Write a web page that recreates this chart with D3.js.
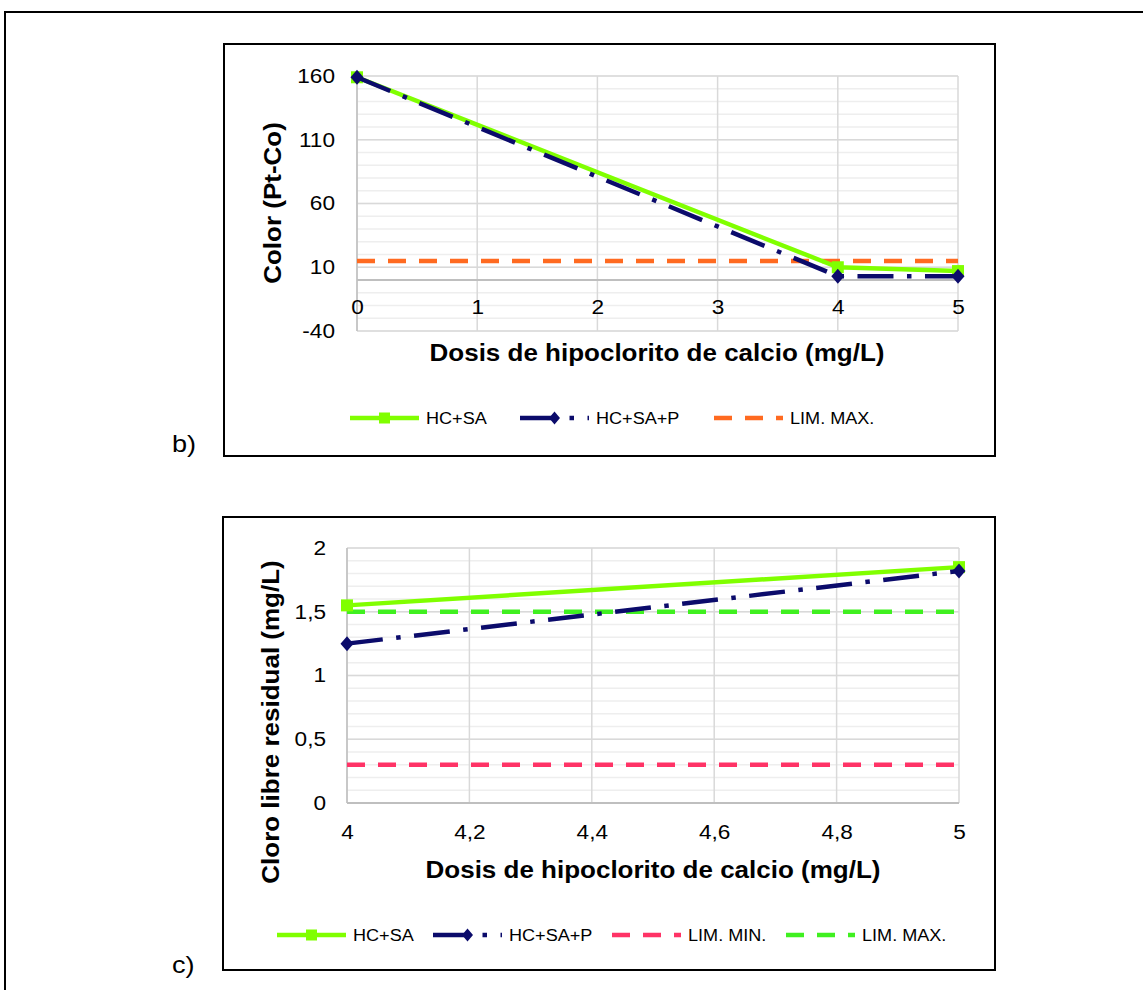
<!DOCTYPE html>
<html>
<head>
<meta charset="utf-8">
<script src="https://cdn.jsdelivr.net/npm/d3@7"></script>
<style>
  html, body { margin: 0; padding: 0; background: #fff; }
  svg text { font-family: "Liberation Sans", Arial, sans-serif; fill: #000; }
</style>
</head>
<body>
<svg id="fig" width="1143" height="990"></svg>
<script>
// ---- Panel b: colour vs. calcium hypochlorite dose ----
const colorDoses = [0, 4, 5];
const colorHcSa = [159, 10, 7];
const colorHcSaP = [159, 3, 3];
const colorLimMax = 15;
const colorYTicks = [-40, 10, 60, 110, 160];
const colorXTicks = [0, 1, 2, 3, 4, 5];

// ---- Panel c: free residual chlorine vs. dose ----
const chlorineDoses = [4, 5];
const chlorineHcSa = [1.55, 1.85];
const chlorineHcSaP = [1.25, 1.82];
const chlorineLimMin = 0.3;
const chlorineLimMax = 1.5;
const chlorineYTicks = [0, 0.5, 1, 1.5, 2];
const chlorineXTicks = [4, 4.2, 4.4, 4.6, 4.8, 5];

const GREEN = "#80ff00", NAVY = "#0b0b6b", ORANGE = "#ff6a20", PINK = "#ff3366", LIME = "#40f020";
const DASH = "18,13", DASHDOT = "36,13.5,4.5,13.5";
const comma = d => String(d).replace(".", ",");

const svg = d3.select("#fig");
svg.append("rect").attr("width", 1143).attr("height", 990).attr("fill", "#fff");

// outer frame (top and left edges only are visible)
svg.append("path").attr("d", "M5,990V12H1143").attr("fill", "none").attr("stroke", "#000").attr("stroke-width", 2);

function diamond(sel, cx, cy, w, h, fill) {
  sel.append("path")
    .attr("d", `M${cx},${cy - h}L${cx + w},${cy}L${cx},${cy + h}L${cx - w},${cy}Z`)
    .attr("fill", fill);
}
function square(sel, cx, cy, s, fill) {
  sel.append("rect").attr("x", cx - s / 2).attr("y", cy - s / 2).attr("width", s).attr("height", s).attr("fill", fill);
}

function panel(cfg) {
  const g = svg.append("g");
  // box
  g.append("rect").attr("x", cfg.box[0]).attr("y", cfg.box[1])
    .attr("width", cfg.box[2] - cfg.box[0]).attr("height", cfg.box[3] - cfg.box[1])
    .attr("fill", "none").attr("stroke", "#000").attr("stroke-width", 2);
  g.append("text").attr("x", 172).attr("y", cfg.tagY).attr("font-size", 24).text(cfg.tag);

  const x = d3.scaleLinear().domain(cfg.xDomain).range(cfg.xRange);
  const y = d3.scaleLinear().domain(cfg.yDomain).range(cfg.yRange);
  const [x0, x1] = cfg.xRange, [yb, yt] = cfg.yRange;

  // minor horizontal gridlines
  const minor = d3.range(cfg.yDomain[0], cfg.yDomain[1] + cfg.minorStep / 2, cfg.minorStep);
  g.append("g").selectAll("line").data(minor).join("line")
    .attr("x1", x0).attr("x2", x1).attr("y1", d => y(d)).attr("y2", d => y(d))
    .attr("stroke", "#eeeeee").attr("stroke-width", 1.5);
  // major gridlines
  g.append("g").selectAll("line").data(cfg.yTicks).join("line")
    .attr("x1", x0).attr("x2", x1).attr("y1", d => y(d)).attr("y2", d => y(d))
    .attr("stroke", "#d9d9d9").attr("stroke-width", 1.5);
  g.append("g").selectAll("line").data(cfg.xTicks).join("line")
    .attr("x1", d => x(d)).attr("x2", d => x(d)).attr("y1", yb).attr("y2", yt)
    .attr("stroke", "#d9d9d9").attr("stroke-width", 1.5);
  // axis lines
  g.append("line").attr("x1", x0).attr("x2", x1).attr("y1", y(0)).attr("y2", y(0))
    .attr("stroke", "#bfbfbf").attr("stroke-width", 2);
  g.append("line").attr("x1", x0).attr("x2", x0).attr("y1", yb).attr("y2", yt)
    .attr("stroke", "#bfbfbf").attr("stroke-width", 1.5);

  // tick labels
  const yAxis = d3.axisLeft(y).tickValues(cfg.yTicks).tickSize(0).tickPadding(cfg.yPad).tickFormat(cfg.fmt);
  const ya = g.append("g").attr("transform", `translate(${x0},0)`).call(yAxis);
  const xAxis = d3.axisBottom(x).tickValues(cfg.xTicks).tickSize(0).tickPadding(cfg.xPad).tickFormat(cfg.fmt);
  const xa = g.append("g").attr("transform", `translate(0,${y(0)})`).call(xAxis);
  [ya, xa].forEach(a => {
    a.select(".domain").remove();
    a.selectAll("text").attr("font-size", 20).attr("fill", "#000")
      .style("font-family", '"Liberation Sans", Arial, sans-serif');
  });

  // axis titles
  g.append("text").attr("x", cfg.xTitle[0]).attr("y", cfg.xTitle[1]).attr("text-anchor", "middle")
    .attr("dominant-baseline", "central").attr("font-size", 23).attr("font-weight", "bold")
    .text("Dosis de hipoclorito de calcio (mg/L)");
  g.append("text").attr("transform", `translate(${cfg.yTitle[0]},${cfg.yTitle[1]}) rotate(-90)`)
    .attr("text-anchor", "middle").attr("dominant-baseline", "central")
    .attr("font-size", 23).attr("font-weight", "bold").text(cfg.yLabel);

  // limit lines
  cfg.limits.forEach(l => {
    g.append("line").attr("x1", x(cfg.xDomain[0])).attr("x2", x(cfg.xDomain[1]))
      .attr("y1", y(l.value)).attr("y2", y(l.value))
      .attr("stroke", l.color).attr("stroke-width", 4.5).attr("stroke-dasharray", DASH);
  });

  const line = d3.line().x(d => x(d[0])).y(d => y(d[1]));
  const ptsA = cfg.doses.map((d, i) => [d, cfg.hcsa[i]]);
  const ptsB = cfg.doses.map((d, i) => [d, cfg.hcsap[i]]);
  g.append("path").attr("d", line(ptsA)).attr("fill", "none").attr("stroke", GREEN)
    .attr("stroke-width", 4.5).attr("stroke-linejoin", "round");
  ptsA.forEach(p => square(g, x(p[0]), y(p[1]), 12, GREEN));
  g.append("path").attr("d", line(ptsB)).attr("fill", "none").attr("stroke", NAVY)
    .attr("stroke-width", 4.5).attr("stroke-dasharray", DASHDOT);
  ptsB.forEach(p => diamond(g, x(p[0]), y(p[1]), 6.5, 7.5, NAVY));

  // legend
  const lg = g.append("g");
  cfg.legend.forEach(it => {
    const ly = cfg.legendY, sx = it.x;
    lg.append("line").attr("x1", sx).attr("x2", sx + 69).attr("y1", ly).attr("y2", ly)
      .attr("stroke", it.color).attr("stroke-width", 4.5)
      .attr("stroke-dasharray", it.dash || null);
    if (it.marker === "square") square(lg, sx + 34.5, ly, 11, it.color);
    if (it.marker === "diamond") diamond(lg, sx + 34.5, ly, 5.5, 6.5, it.color);
    lg.append("text").attr("x", sx + 76).attr("y", ly).attr("dominant-baseline", "central")
      .attr("font-size", 16).text(it.label);
  });
}

panel({
  box: [224, 44, 995, 456], tag: "b)", tagY: 452,
  xDomain: [0, 5], xRange: [357, 958], yDomain: [-40, 160], yRange: [331, 76],
  minorStep: 10, yTicks: colorYTicks, xTicks: colorXTicks, fmt: d => String(d),
  yPad: 22, xPad: 20, xTitle: [657, 353], yTitle: [273, 203], yLabel: "Color (Pt-Co)",
  doses: colorDoses, hcsa: colorHcSa, hcsap: colorHcSaP,
  limits: [{ value: colorLimMax, color: ORANGE }],
  legendY: 418,
  legend: [
    { x: 350, color: GREEN, marker: "square", label: "HC+SA" },
    { x: 520, color: NAVY, marker: "diamond", dash: DASHDOT, label: "HC+SA+P" },
    { x: 714, color: ORANGE, dash: DASH, label: "LIM. MAX." }
  ]
});

panel({
  box: [223, 517, 995, 970], tag: "c)", tagY: 973,
  xDomain: [4, 5], xRange: [347, 959], yDomain: [0, 2], yRange: [803, 548],
  minorStep: 0.1, yTicks: chlorineYTicks, xTicks: chlorineXTicks, fmt: comma,
  yPad: 21, xPad: 22, xTitle: [653, 870], yTitle: [271, 722], yLabel: "Cloro libre residual (mg/L)",
  doses: chlorineDoses, hcsa: chlorineHcSa, hcsap: chlorineHcSaP,
  limits: [{ value: chlorineLimMin, color: PINK }, { value: chlorineLimMax, color: LIME }],
  legendY: 935,
  legend: [
    { x: 277, color: GREEN, marker: "square", label: "HC+SA" },
    { x: 433, color: NAVY, marker: "diamond", dash: DASHDOT, label: "HC+SA+P" },
    { x: 612, color: PINK, dash: DASH, label: "LIM. MIN." },
    { x: 786, color: LIME, dash: DASH, label: "LIM. MAX." }
  ]
});

// the typeface in this figure runs a little wider than Arial; widen every label evenly
svg.selectAll("text").each(function () {
  const w = this.getComputedTextLength();
  if (w > 0) d3.select(this).attr("textLength", w * 1.13).attr("lengthAdjust", "spacingAndGlyphs");
});
</script>
</body>
</html>
